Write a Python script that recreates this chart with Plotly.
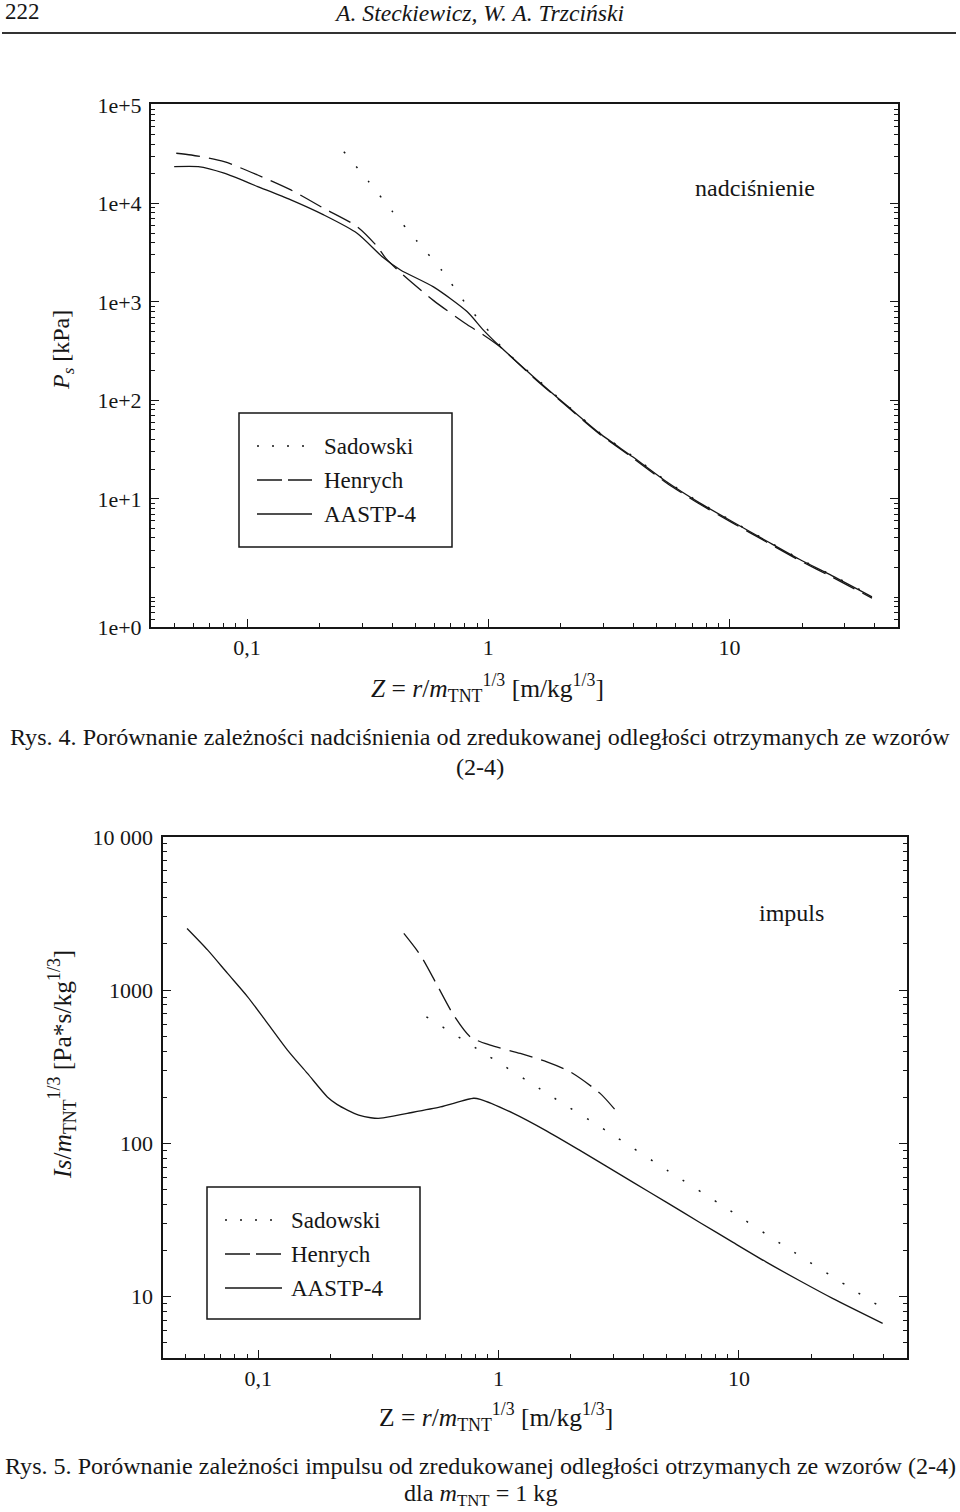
import plotly.graph_objects as go

W, H = 960, 1512
SERIF = "Liberation Serif"
INK = "#161616"

# ---- Rys. 4: overpressure P_s [kPa] vs Z ----
P_SAD_Z = [0.252, 0.318, 0.401, 0.509, 0.646, 0.804, 1.01, 1.146, 1.535, 2.10, 2.90,
           3.97, 5.49, 7.52, 10.3, 14.2, 19.5, 26.7, 39.0]
P_SAD = [33570, 16900, 8260, 4090, 2050, 971, 498, 339, 178, 91.5, 46.8,
         27.2, 15.1, 9.2, 5.9, 3.8, 2.46, 1.67, 1.03]

P_HEN_Z = [0.0509, 0.0588, 0.0804, 0.1107, 0.152, 0.208, 0.286, 0.347, 0.375, 0.433,
           0.594, 0.817, 0.956, 1.12, 1.535, 2.10, 2.90, 3.97, 5.49, 7.52, 10.3,
           14.2, 19.5, 26.7, 39.0]
P_HEN = [32360, 31050, 26540, 19450, 13710, 8930, 5820, 3640, 2800, 1980,
         1030, 589, 462, 350, 172, 88.5, 45.4, 26.1, 14.5, 8.85, 5.7,
         3.66, 2.37, 1.6, 0.98]

P_AAS_Z = [0.0499, 0.0628, 0.0804, 0.1107, 0.152, 0.208, 0.286, 0.368, 0.433, 0.593,
           0.817, 0.953, 1.12, 1.535, 2.10, 2.90, 3.97, 5.49, 7.52, 10.3, 14.2,
           19.5, 26.7, 39.0]
P_AAS = [23650, 23650, 20280, 14830, 10860, 7640, 4980, 2800, 2110, 1420,
         797, 520, 352, 175, 90.0, 46.2, 26.7, 14.9, 9.10, 5.85, 3.75,
         2.43, 1.65, 1.01]

P_TICKVALS = [0.5, 10, 100, 1000, 10000, 100000]
P_TICKTEXT = ["1e+0", "1e+1", "1e+2", "1e+3", "1e+4", "1e+5"]

# ---- Rys. 5: impulse Is/m^(1/3) vs Z ----
I_SAD_Z = [0.501, 0.895, 1.588, 2.85, 5.07, 9.0, 15.96, 28.3, 37.8]
I_SAD = [670, 377, 212, 119, 66.2, 37.2, 20.7, 11.7, 8.8]

I_HEN_Z = [0.4036, 0.473, 0.555, 0.650, 0.763, 0.924, 1.231, 1.588, 1.985, 2.645, 3.10]
I_HEN = [2344, 1690, 1078, 687, 495, 437, 386, 340, 293, 212, 161]

I_AAS_Z = [0.0506, 0.0617, 0.0746, 0.0904, 0.1094, 0.1324, 0.1603, 0.194, 0.2135, 0.235,
           0.262, 0.294, 0.323, 0.417, 0.573, 0.787, 0.839, 1.153, 1.588, 2.18, 3.63,
           5.00, 6.87, 9.45, 13.0, 17.9, 24.5, 39.6]
I_AAS = [2524, 1824, 1285, 904, 607, 406, 286, 201, 179, 165,
         153, 147, 146, 157, 173, 197, 194, 157, 120.3, 90.0, 55.7,
         41.2, 30.5, 22.6, 16.8, 12.7, 9.75, 6.70]

I_TICKVALS = [10, 100, 1000, 10000]
I_TICKTEXT = ["10", "100", "1000", "10 000"]

Z_TICKVALS = [0.1, 1, 10]
Z_TICKTEXT = ["0,1", "1", "10"]

SERIES = ["Sadowski", "Henrych", "AASTP-4"]
DASH = {"Sadowski": "2px,17px", "Henrych": "24px,9px", "AASTP-4": "solid"}
LEG_DASH = {"Sadowski": "2px,13px", "Henrych": "25px,6px", "AASTP-4": "solid"}


def px(x):
    return x / W


def py(y):
    return 1 - y / H


def axis(**kw):
    a = dict(type="log", showgrid=False, zeroline=False, showline=True, automargin=False,
             linecolor=INK, linewidth=2, ticks="inside", ticklen=8, tickwidth=1.2,
             tickcolor=INK, tickfont=dict(family=SERIF, size=22, color=INK),
             tickmode="array",
             minor=dict(ticks="inside", ticklen=4, tickwidth=1, tickcolor=INK, dtick="D1"))
    a.update(kw)
    return a


fig = go.Figure()

def add_lines(xs, ys, xa, ya):
    for name, (x, y) in zip(SERIES, zip(xs, ys)):
        fig.add_trace(go.Scatter(
            x=x, y=y, mode="lines", name=name, xaxis=xa, yaxis=ya, showlegend=False,
            line=dict(color=INK, width=1.5 if name == "Sadowski" else 1.3,
                      dash=DASH[name], shape="spline", smoothing=0.7),
            hoverinfo="x+y+name"))

add_lines([P_SAD_Z, P_HEN_Z, P_AAS_Z], [P_SAD, P_HEN, P_AAS], "x", "y")
add_lines([I_SAD_Z, I_HEN_Z, I_AAS_Z], [I_SAD, I_HEN, I_AAS], "x2", "y2")

fig.update_layout(
    width=W, height=H, margin=dict(l=0, r=0, t=0, b=0, autoexpand=False),
    paper_bgcolor="white", plot_bgcolor="white",
    font=dict(family=SERIF, size=22, color=INK),
    xaxis=axis(domain=[px(151), px(898)], range=[-1.398, 1.699], anchor="y",
               tickvals=Z_TICKVALS, ticktext=Z_TICKTEXT, mirror=True, ticklabelstandoff=0),
    yaxis=axis(domain=[py(627), py(104)], range=[-0.302, 5.01], anchor="x",
               tickvals=P_TICKVALS, ticktext=P_TICKTEXT, mirror="ticks", ticklabelstandoff=3),
    xaxis2=axis(domain=[px(162.5), px(907)], range=[-1.398, 1.699], anchor="y2",
                tickvals=Z_TICKVALS, ticktext=Z_TICKTEXT, mirror=True, ticklabelstandoff=0),
    yaxis2=axis(domain=[py(1358), py(836.5)], range=[0.6, 4.002], anchor="x2",
                tickvals=I_TICKVALS, ticktext=I_TICKTEXT, mirror="ticks", ticklabelstandoff=3),
)

# hand-drawn legend boxes (framed, as in the printed figures)
def legend(box, sym_x, text_x, rows):
    x0, y0, x1, y1 = box
    fig.add_shape(type="rect", xref="paper", yref="paper",
                  x0=px(x0), x1=px(x1), y0=py(y1), y1=py(y0),
                  line=dict(color=INK, width=1.5), fillcolor="white", layer="above")
    for name, yr in zip(SERIES, rows):
        fig.add_shape(type="line", xref="paper", yref="paper",
                      x0=px(sym_x[0]), x1=px(sym_x[1]), y0=py(yr), y1=py(yr),
                      line=dict(color=INK, width=1.5 if name == "Sadowski" else 1.3,
                                dash=LEG_DASH[name]), layer="above")
        fig.add_annotation(text=name, xref="paper", yref="paper", x=px(text_x), y=py(yr),
                           xanchor="left", yanchor="middle", showarrow=False,
                           font=dict(family=SERIF, size=23, color=INK))

legend((239, 413, 452, 547), (257, 312), 322, (446, 480, 514))
legend((207, 1187, 420, 1319), (225, 282), 289, (1220, 1254, 1288))

def text(t, x, y, size=22, anchor="center", italic=False, angle=0):
    fig.add_annotation(text=f"<i>{t}</i>" if italic else t, xref="paper", yref="paper",
                       x=px(x), y=py(y), xanchor=anchor, yanchor="middle", showarrow=False,
                       textangle=angle, font=dict(family=SERIF, size=size, color=INK))

# axis titles, placed where the printed figures have them
text("<i>Z</i> = <i>r</i>/<i>m</i><sub>TNT</sub><sup>1/3</sup> [m/kg<sup>1/3</sup>]",
     487, 688, size=25.5)
text("<i>P</i><sub><i>s</i></sub> [kPa]", 63, 350, size=24, angle=-90)
text("Z = <i>r</i>/<i>m</i><sub>TNT</sub><sup>1/3</sup> [m/kg<sup>1/3</sup>]",
     496, 1417, size=25.5)
text("<i>Is</i>/<i>m</i><sub>TNT</sub><sup>1/3</sup> [Pa*s/kg<sup>1/3</sup>]",
     62, 1065, size=25.5, angle=-90)

text("nadciśnienie", 755, 188, size=24)
text("impuls", 791, 913, size=24)

# page header
text("222", 3, 12, size=23, anchor="left")
text("A. Steckiewicz, W. A. Trzciński", 479, 13, size=23.7, italic=True)
fig.add_shape(type="line", xref="paper", yref="paper", x0=px(2), x1=px(956),
              y0=py(33), y1=py(33), line=dict(color="#333333", width=2))

# captions
text("Rys. 4. Porównanie zależności nadciśnienia od zredukowanej odległości otrzymanych ze wzorów",
     480, 737, size=24.1)
text("(2-4)", 480, 767, size=24.1)
text("Rys. 5. Porównanie zależności impulsu od zredukowanej odległości otrzymanych ze wzorów (2-4)",
     480, 1466, size=24.1)
text("dla <i>m</i><sub>TNT</sub> = 1 kg", 480, 1495, size=24.1)

# the page is a full-bleed figure: drop the browser's default body margin
fig.write_html("out.html", config={"displayModeBar": False},
               post_script="document.body.style.margin = '0';")
